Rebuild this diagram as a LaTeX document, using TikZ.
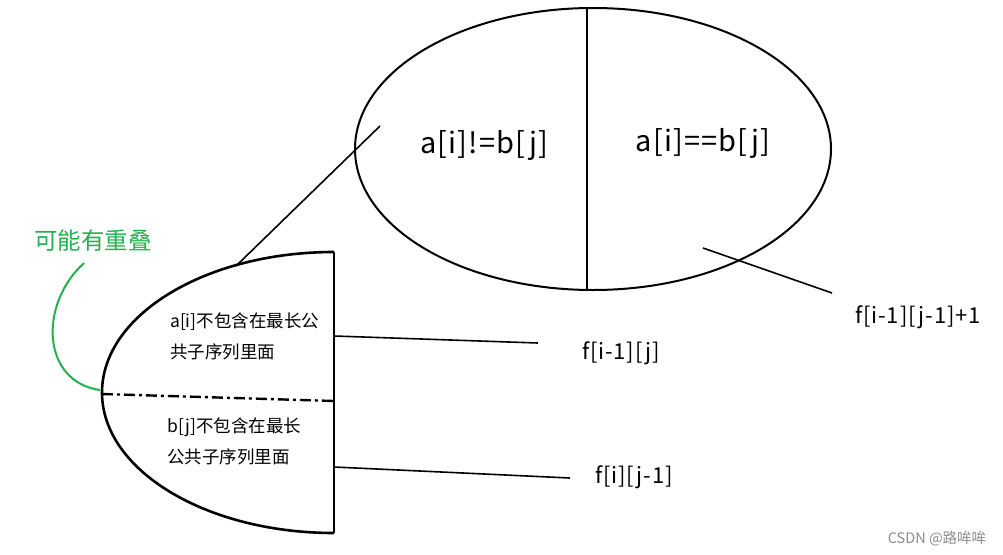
\documentclass[tikz,border=0pt]{standalone}
\usepackage{fontspec}
\setmainfont{Noto Sans CJK SC}
\newfontfamily\spaced[LetterSpace=4]{Noto Sans CJK SC}
\usetikzlibrary{shapes.geometric}
\definecolor{mygreen}{RGB}{34,177,76}
\tikzset{
  outline/.style={line width=2pt, black},
  link/.style={line width=1.6pt, black},
  bigtxt/.style={font=\spaced\fontsize{29}{33}\selectfont, inner sep=0pt},
  ftxt/.style={font=\spaced\fontsize{22}{26}\selectfont, inner sep=0pt},
  smalltxt/.style={font=\fontsize{17.5}{21}\selectfont, inner sep=0pt, anchor=west},
}
\begin{document}
\begin{tikzpicture}[x=1pt,y=1pt]
\useasboundingbox[fill=white] (0,0) rectangle (1003,-554);
% big ellipse
\node[outline, draw, ellipse, minimum width=476pt, minimum height=282pt, inner sep=0pt] (E) at (593,-149) {};
\coordinate (Vt) at (587,-7);
\coordinate (Vb) at (587,-290);
\draw[outline] (Vt) -- (Vb);
\node[bigtxt] (neq) at (484,-145) {a[i]!=b[j]};
\node[bigtxt] (eq) at (703,-143) {a[i]==b[j]};
% half ellipse
\coordinate (Ht) at (334,-252);
\coordinate (Hb) at (334,-533);
\coordinate (Hl) at (102,-394);
\coordinate (Hr) at (334,-401);
\draw[outline, line width=2.6pt] (Ht) arc[start angle=90, end angle=270, x radius=232, y radius=140.5];
\draw[outline, line width=2.6pt] (Ht) -- (Hb);
\draw[line width=2.4pt, dash pattern=on 11pt off 4pt on 3pt off 4pt] (Hl) -- (Hr);
% texts inside
\node[smalltxt] (a1) at (170,-322) {a[i]不包含在最长公};
\node[smalltxt] (a2) at (170,-352) {共子序列里面};
\node[smalltxt] (b1) at (167,-427) {b[j]不包含在最长};
\node[smalltxt] (b2) at (167,-457) {公共子序列里面};
% connecting lines
\coordinate (L1a) at (380,-126);
\coordinate (L1b) at (236,-266);
\draw[link] (L1a) -- (L1b);
\coordinate (R1a) at (703,-248);
\coordinate (R1b) at (832,-293);
\draw[link] (R1a) -- (R1b);
\node[ftxt] (f1) at (918,-317) {f[i-1][j-1]+1};
\node[ftxt] (f2) at (621,-353) {f[i-1][j]};
\node[ftxt] (f3) at (634,-477) {f[i][j-1]};
\coordinate (U1) at (334,-336);
\coordinate (U2) at (538,-343);
\draw[link] (U1) -- (U2);
\coordinate (D1) at (334,-467);
\coordinate (D2) at (570,-478);
\draw[link] (D1) -- (D2);
% green annotation
\node[font=\fontsize{23.5}{27}\selectfont, text=mygreen, inner sep=0pt] (ov) at (93,-241) {可能有重叠};
\coordinate (G1) at (84,-263);
\coordinate (G2) at (100,-390);
\draw[mygreen, line width=2pt] (G1) .. controls (38,-305) and (42,-382) .. (G2);
% watermark
\node[font=\fontsize{14.5}{17}\selectfont, text=black!45, inner sep=0pt] (wm) at (937,-539) {CSDN @路哞哞};
\end{tikzpicture}
\end{document}
